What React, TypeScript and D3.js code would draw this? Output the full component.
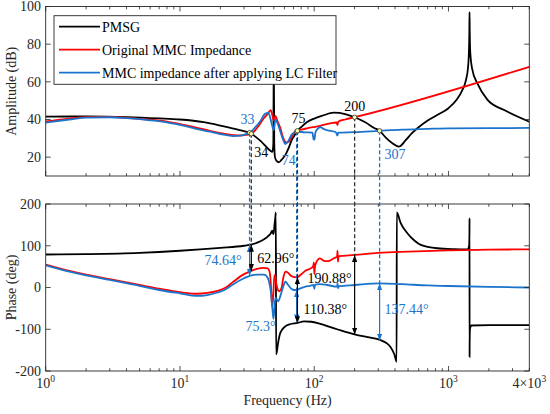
import * as d3 from "d3";
import React from "react";

// bode plot: PMSG vs MMC impedance (magnitude + phase)
type Pt = [number, number];

const pmsgMag: Pt[] = [
  [1, 41.5], [2, 41.6], [4, 41.3], [7, 40.6], [10, 40], [15, 38.6], [20, 36.8], [25, 35.2],
  [30, 33.8], [33, 33], [37, 30.5], [40, 28.5], [44, 25.5], [47, 23.5], [48.8, 22.8], [49.6, 27],
  [50, 75], [50.4, 27], [51, 20], [52.5, 18], [54.5, 17.3], [57, 18.5], [61, 21.2], [65, 25.5],
  [68, 29.1], [72, 32], [75, 34], [80, 36], [88, 38.5], [100, 40.5], [115, 42], [140, 43.6],
  [170, 42.9], [200, 41.2], [240, 38.5], [280, 35.5], [307, 34], [340, 30.5], [380, 27.5],
  [428, 25.6], [480, 29], [530, 32.5], [590, 35.5], [700, 39.5], [830, 42.5], [1000, 46],
  [1150, 50.5], [1271, 55.7], [1350, 61], [1400, 68], [1420, 76], [1430, 86], [1435, 97],
  [1440, 87], [1455, 75], [1500, 67], [1645, 59], [1955, 50.4], [2600, 45], [4000, 38.8],
];

const mmcMag: Pt[] = [
  [1, 39], [1.5, 40.5], [2, 41.3], [3, 41.4], [4, 40.9], [6, 39.9], [8, 38.9], [10, 37.6],
  [13, 35.8], [16.7, 34], [20, 32.8], [25, 31.7], [28, 31.5], [31, 31.8], [34, 32.4], [37, 35],
  [42, 40.5], [45, 43], [47.5, 45], [48.7, 42.4], [50, 39.5], [51.4, 41.9], [53, 39.5], [56, 35.3],
  [59, 29.8], [62, 27.8], [65, 28.3], [70, 32.4], [75, 34], [80, 34.6], [88, 35.3], [95, 35.8],
  [100, 36], [111, 36.6], [124, 37.6], [147, 38.4], [149, 37], [151, 38.8], [170, 40], [200, 41.2],
  [4000, 68],
];

const lcMag: Pt[] = [
  [1, 38.4], [1.5, 40], [2, 41], [3, 41.2], [4, 40.7], [5.8, 39.7], [8, 38.5], [10, 37.1],
  [13, 35.2], [16.7, 33.5], [20, 32.3], [25, 31.2], [28, 31.4], [31, 32.2], [33, 33], [36, 35.5],
  [40, 39.5], [43, 43], [45.5, 43.5], [47, 41], [48.5, 37], [50, 34.4], [51.4, 40], [53, 38.5],
  [56, 33.5], [58.5, 29.5], [61, 27], [64, 28.5], [68, 32], [74, 33.6], [77, 33.5], [85, 33.2],
  [97, 33], [99, 29.3], [100.5, 29.5], [102, 33], [106, 35], [111, 36], [117, 35], [125, 34.3],
  [145, 33.2], [149, 31.5], [151, 33], [200, 33.3], [307, 34], [450, 34.6], [700, 35],
  [1000, 35.3], [2000, 35.4], [4000, 35.5],
];

const pmsgPh: Pt[] = [
  [1, 79], [2, 80], [5, 83], [10, 88], [20, 95], [30, 100], [33, 102], [38, 108], [42, 115],
  [45, 122], [47.5, 130], [48.6, 136], [49.2, 130], [49.8, 128], [50.6, 150], [51.4, 170],
  [51.8, 180], [52, -160], [52.6, -155], [54, -130], [56, -108], [60, -95], [66, -88], [75, -85],
  [84, -81], [95, -82], [111, -87], [148, -100], [203, -113], [250, -119], [312, -126],
  [345, -133], [371, -143], [395, -160], [411, -178], [412, 180], [440, 155], [494, 130],
  [560, 112], [621, 102], [827, 94], [1100, 92], [1387, 91.5], [1425, 100], [1433, 130],
  [1435, 166], [1436, -166], [1438, -130], [1445, -100], [1480, -91], [2000, -90], [4000, -90],
];

const mmcPh: Pt[] = [
  [1, 55], [1.5, 40], [2, 31], [3, 20], [5, 6], [7, -3], [10, -11], [13.4, -15], [16, -13],
  [19, -8], [22, 0], [25, 14], [30, 32], [34, 40], [38, 45], [42, 47], [45, 46], [46.5, 38],
  [47.5, 10], [48.3, -35], [48.8, -45], [49.5, -20], [50.3, 20], [51, 30], [52, 12], [53.5, -5],
  [55, -9], [57, -2], [59, 25], [61, 38], [64, 35], [67, 28], [71, 25], [75, 25], [79, 30],
  [86, 40], [93, 45], [98, 50], [99.5, 60], [100.2, 32], [101.5, 52], [106, 66], [110, 70],
  [118, 64], [126, 63], [140, 70], [148, 74], [149.2, 88], [150.2, 62], [152, 75], [200, 78],
  [300, 83], [500, 86], [1000, 89], [2000, 90.5], [4000, 91.5],
];

const lcPh: Pt[] = [
  [1, 53], [1.5, 38], [2, 29], [3, 18], [5, 4], [7, -6], [10, -14], [13.4, -20], [16, -18],
  [19, -12], [22, -4], [25, 8], [30, 22], [33, 28], [38, 31], [42, 31], [44, 28], [46, 15],
  [47.5, -10], [48.8, -50], [49.7, -75], [50.4, -55], [51.3, -25], [52.5, -28], [54, -33],
  [56, -20], [58.5, 0], [61, 14], [64, 6], [67, -2], [71, -6], [74, -6], [79, -2], [86, 2],
  [93, 4], [99, 6], [100.2, -3], [101.5, 7], [110, 8], [125, 6], [148, 2], [149.3, 10],
  [150.3, -2], [152, 3], [200, 6], [307, 10], [450, 8], [700, 5], [1000, 3.6], [2000, 1.5],
  [4000, 0],
];

// crossing points and phase margins
const markFreqs = [33, 34, 74, 75, 200, 307];
const markNames = ["33", "34", "74", "75", "200", "307"];
const markDb = [33, 32.4, 33.6, 34, 41.2, 34];
const markPhFrom = [102, 102.5, -6, 25, 78, 10];
const markPhTo = [28, 39.5, -81.3, -85.4, -112.9, -127.4];
const markAngles = ["74.64°", "62.96°", "75.3°", "110.38°", "190.88°", "137.44°"];
const markIsBlue = [true, false, true, false, false, true];

const legendNames = ["PMSG", "Original MMC Impedance", "MMC impedance after applying LC Filter"];
const ampTicks = [20, 40, 60, 80, 100];
const phTicks = [-200, -100, 0, 100, 200];
const decades = [0, 1, 2, 3];

// layout
const W = 550, H = 414;
const left = 45.7, right = 529.3;
const top1 = 6.5, bot1 = 176, top2 = 204, bot2 = 371;
const BLUE = "#1a74cc";
const RED = "#ff0000";
const AX = "#262626";
const FONT = "'Liberation Serif', 'Times New Roman', serif";

// label placement per mark: [dx, dy, anchor] for freq label, [dx, phase, anchor] for angle
const freqLabelPos: [number, number, string][] = [
  [-2, -14, "middle"], [10, 18, "middle"], [-1, 29, "end"], [1, -13, "middle"], [0, -11, "middle"], [5, 23, "start"],
];
const angleLabelPos: [number, number, string][] = [
  [-8, 65, "end"], [6, 71, "start"], [-21, -93, "end"], [6, -52, "start"], [-3, 23, "end"], [5, -52, "start"],
];

const x = d3.scaleLog().domain([1, 4000]).range([left, right]);
const yA = d3.scaleLinear().domain([10, 100]).range([bot1, top1]);
const yP = d3.scaleLinear().domain([-200, 200]).range([bot2, top2]);

const lineA = d3.line<Pt>().x((d) => x(d[0])).y((d) => yA(d[1])).curve(d3.curveMonotoneX);
const lineP = d3.line<Pt>().x((d) => x(d[0])).y((d) => yP(d[1])).curve(d3.curveMonotoneX);

const minorTicks = x.ticks().filter((t) => Math.abs(Math.log10(t) - Math.round(Math.log10(t))) > 1e-6);

function Frame({ y0, y1, yScale, ticks }: { y0: number; y1: number; yScale: any; ticks: number[] }) {
  return (
    <g>
      {decades.map((p) => (
        <g key={"M" + p}>
          <line x1={x(10 ** p)} x2={x(10 ** p)} y1={y1} y2={y1 - 5} stroke={AX} strokeWidth={0.8} />
          <line x1={x(10 ** p)} x2={x(10 ** p)} y1={y0} y2={y0 + 5} stroke={AX} strokeWidth={0.8} />
        </g>
      ))}
      {minorTicks.map((t) => (
        <g key={"m" + t}>
          <line x1={x(t)} x2={x(t)} y1={y1} y2={y1 - 2.8} stroke={AX} strokeWidth={0.8} />
          <line x1={x(t)} x2={x(t)} y1={y0} y2={y0 + 2.8} stroke={AX} strokeWidth={0.8} />
        </g>
      ))}
      {ticks.map((t) => (
        <g key={"y" + t}>
          <line x1={left} x2={left + 5} y1={yScale(t)} y2={yScale(t)} stroke={AX} strokeWidth={0.8} />
          <line x1={right} x2={right - 5} y1={yScale(t)} y2={yScale(t)} stroke={AX} strokeWidth={0.8} />
          <text x={41} y={yScale(t)} dy="0.35em" textAnchor="end" fontSize={14} fill={AX}>
            {t}
          </text>
        </g>
      ))}
      <rect x={left} y={y0} width={right - left} height={y1 - y0} fill="none" stroke={AX} strokeWidth={0.9} />
    </g>
  );
}

export default function App() {
  return (
    <svg width={W} height={H} style={{ position: "absolute", left: 0, top: 0, background: "#fff" }} fontFamily={FONT}>
      <defs>
        <clipPath id="cTop">
          <rect x={left} y={top1} width={right - left} height={bot1 - top1} />
        </clipPath>
        <clipPath id="cBot">
          <rect x={left} y={top2} width={right - left} height={bot2 - top2} />
        </clipPath>
        {[["hk", "#000"], ["hb", BLUE]].map(([id, c]) => (
          <marker key={id} id={id} viewBox="0 0 8 6" refX={8} refY={3} markerWidth={7} markerHeight={5.5}
            markerUnits="userSpaceOnUse" orient="auto-start-reverse">
            <path d="M0,0 L8,3 L0,6 z" fill={c} />
          </marker>
        ))}
      </defs>
      <rect width={W} height={H} fill="#fff" />

      {/* curves */}
      <g clipPath="url(#cTop)" fill="none" strokeWidth={1.8}>
        <path d={lineA(pmsgMag)!} stroke="#000" />
        <path d={lineA(mmcMag)!} stroke={RED} />
        <path d={lineA(lcMag)!} stroke={BLUE} />
      </g>
      <g clipPath="url(#cBot)" fill="none" strokeWidth={1.8}>
        <path d={lineP(pmsgPh)!} stroke="#000" />
        <path d={lineP(mmcPh)!} stroke={RED} />
        <path d={lineP(lcPh)!} stroke={BLUE} />
      </g>

      <Frame y0={top1} y1={bot1} yScale={yA} ticks={ampTicks} />
      <Frame y0={top2} y1={bot2} yScale={yP} ticks={phTicks} />

      {/* x tick labels */}
      {decades.map((p) => (
        <text key={p} x={x(10 ** p)} y={388} textAnchor="middle" fontSize={14} fill={AX}>
          10<tspan dy={-6} fontSize={9.5}>{p}</tspan>
        </text>
      ))}
      <text x={x(4000)} y={388} textAnchor="middle" fontSize={14} fill={AX}>
        4×10<tspan dy={-6} fontSize={9.5}>3</tspan>
      </text>
      <text x={(left + right) / 2} y={405} textAnchor="middle" fontSize={14} fill={AX}>
        Frequency (Hz)
      </text>
      <text transform={`translate(16,${(top1 + bot1) / 2}) rotate(-90)`} textAnchor="middle" fontSize={14} fill={AX}>
        Amplitude (dB)
      </text>
      <text transform={`translate(16,${(top2 + bot2) / 2}) rotate(-90)`} textAnchor="middle" fontSize={14} fill={AX}>
        Phase (deg)
      </text>

      {/* legend */}
      <g>
        <rect x={54} y={15.7} width={282} height={68.6} fill="#fff" stroke={AX} strokeWidth={0.9} />
        {legendNames.map((n, i) => (
          <g key={n} transform={`translate(0,${26.7 + i * 23})`}>
            <line x1={59} x2={100} y1={0} y2={0} stroke={["#000", RED, BLUE][i]} strokeWidth={1.8} />
            <text x={102} y={0} dy="0.35em" fontSize={14} fill="#000">
              {n}
            </text>
          </g>
        ))}
      </g>

      {/* annotations */}
      {markFreqs.map((f, i) => {
        const c = markIsBlue[i] ? BLUE : "#000";
        const dc = markIsBlue[i] ? BLUE : "#333";
        const px = x(f);
        const py = yA(markDb[i]);
        const [fdx, fdy, fa] = freqLabelPos[i];
        const [adx, aph, aa] = angleLabelPos[i];
        return (
          <g key={f}>
            <line x1={px} x2={px} y1={py} y2={yP(markPhFrom[i])} stroke={dc} strokeWidth={1.3} strokeDasharray="4 2.5" />
            <line x1={px} x2={px} y1={yP(markPhFrom[i])} y2={yP(markPhTo[i])} stroke={c} strokeWidth={1.2}
              markerStart={`url(#${markIsBlue[i] ? "hb" : "hk"})`} markerEnd={`url(#${markIsBlue[i] ? "hb" : "hk"})`} />
            <text x={px + fdx} y={py + fdy} dy="0.35em" textAnchor={fa as any} fontSize={14} fill={c}>
              {markNames[i]}
            </text>
            <text x={px + adx} y={yP(aph)} dy="0.35em" textAnchor={aa as any} fontSize={14} fill={c}>
              {markAngles[i]}
            </text>
          </g>
        );
      })}
      {markFreqs.map((f, i) => (
        <circle key={"p" + f} cx={x(f)} cy={yA(markDb[i])} r={2.2} fill="#ffffb0" stroke="#333" strokeWidth={0.8} />
      ))}
    </svg>
  );
}
